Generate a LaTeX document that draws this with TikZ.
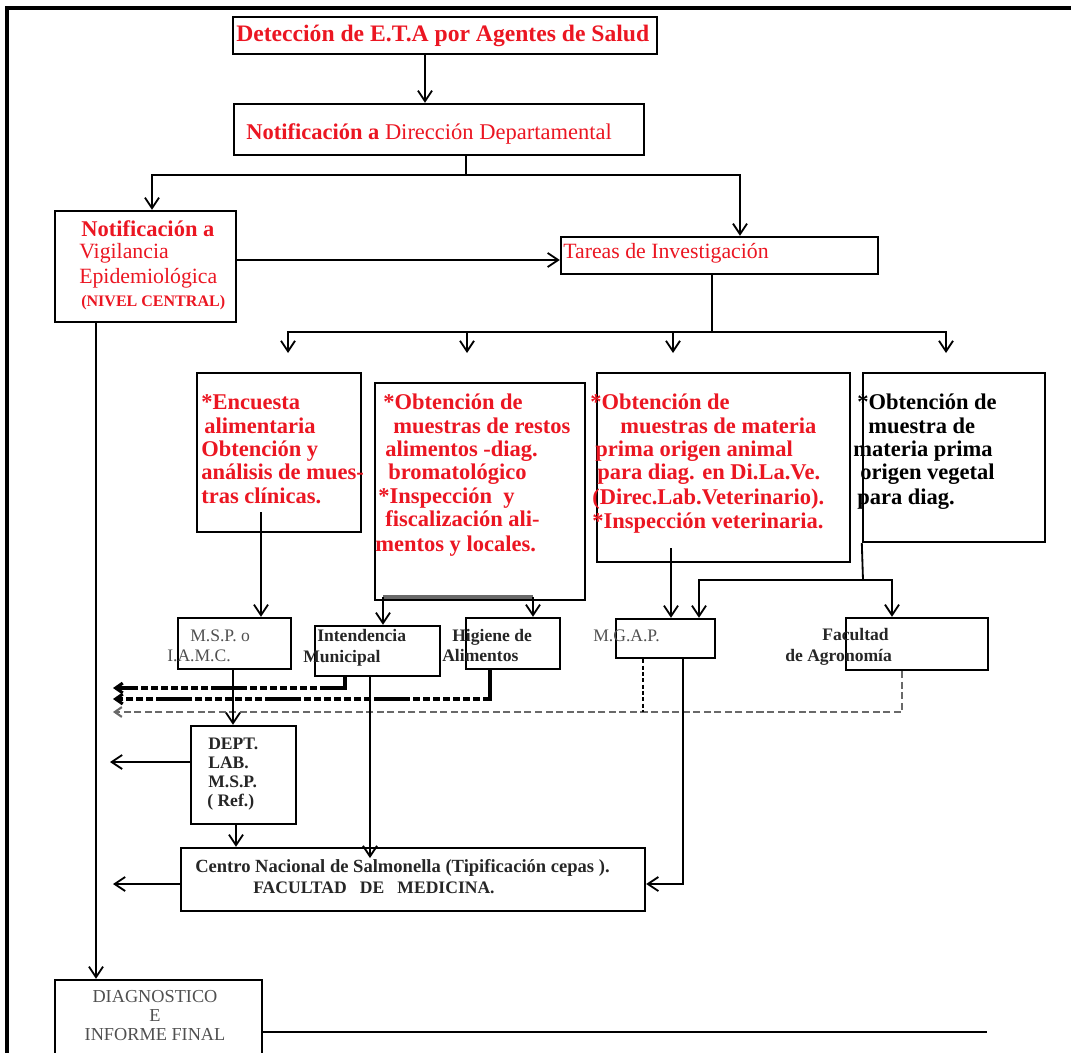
\documentclass[tikz,border=0pt]{standalone}
\usepackage{fontspec}
\setmainfont{Liberation Serif}
\usetikzlibrary{arrows.meta}

\definecolor{txtred}{RGB}{235,22,34}
\definecolor{txtgray}{RGB}{80,80,80}
\definecolor{bargray}{RGB}{105,105,105}

% box from its corners (x1,y1) to (x2,y2), in pixel units
\newcommand\pbox[5]{\node[boxst, minimum width={(#4-#2)*0.025cm}, minimum height={(#5-#3)*0.025cm}] (#1) at ({(#2+#4)/2},{(#3+#5)/2}) {};}
% one line of text, placed by the left end of its baseline
\newcommand\putline[5]{\node[#2, anchor=base west, inner sep=0pt] (#1) at (#3,#4) {#5};}

\tikzset{
  boxst/.style={draw, rectangle, line width=1.7pt, inner sep=0pt},
  conn/.style={line width=1.3pt},
  arr/.style={conn, -{Straight Barb[length=7.5pt,width=10pt]}},
  sarr/.style={-{Straight Barb[length=5pt,width=7pt]}},
  redb/.style={text=txtred, font=\fontsize{16pt}{16.7pt}\selectfont\bfseries},
  redr/.style={text=txtred, font=\fontsize{15.5pt}{16.7pt}\selectfont},
  blkb/.style={text=black, font=\fontsize{16pt}{16.7pt}\selectfont\bfseries},
  smb/.style={text=black!85, font=\fontsize{12.5pt}{14pt}\selectfont\bfseries},
  smg/.style={text=txtgray, font=\fontsize{12.5pt}{14pt}\selectfont},
  thickdash/.style={line width=2.2pt, dash pattern=on 25.6pt off 2.1pt on 5pt off 2.1pt on 5pt off 2.1pt on 5pt off 2.1pt on 5pt off 2.1pt on 5pt off 2.1pt on 5pt off 2.1pt on 5pt off 2.1pt},
  thindash/.style={line width=1.5pt, bargray, dash pattern=on 5pt off 2.5pt},
  vdash/.style={line width=1.5pt, dash pattern=on 3pt off 1.5pt}
}

\begin{document}
\begin{tikzpicture}[x=0.025cm, y=-0.025cm]
\useasboundingbox (0,0) rectangle (1071,1052);
\clip (0,0) rectangle (1071,1052);

% page frame (left and top rules)
\draw[line width=2.2pt] (7,1060) -- (7,8) -- (1080,8);

% ---------- boxes ----------
\pbox{det}{233}{17}{657}{54}
\pbox{ndir}{234}{104}{644}{155}
\pbox{vig}{55}{211}{236}{322}
\pbox{tar}{561}{237}{878}{274}
\pbox{ba}{197}{373}{361}{532}
\pbox{bb}{375}{383}{585}{600}
\pbox{bc}{597}{373}{850}{562}
\pbox{bd}{863}{373}{1045}{542}
\pbox{msp}{178}{618}{291}{669}
\pbox{intd}{315}{626}{440}{676}
\pbox{hig}{466}{618}{560}{669}
\pbox{mgap}{616}{619}{715}{658}
\pbox{fac}{846}{618}{988}{670}
\pbox{dept}{191}{726}{296}{824}
\pbox{centro}{181}{848}{645}{911}
\pbox{diag}{55}{980}{262}{1064}

% ---------- texts ----------
\putline{det-t}{redb}{236}{42}{\fontsize{16.8pt}{17pt}\selectfont Detección de E.T.A por Agentes de Salud}
\putline{ndir-t}{redr}{246}{139}{\fontsize{16pt}{17pt}\selectfont\textbf{Notificación a} Dirección Departamental}
\putline{tar-t}{redr}{563}{258}{Tareas de Investigación}

\putline{vig-1}{redb}{81}{236}{Notificación a}
\putline{vig-2}{redr}{79}{258}{Vigilancia}
\putline{vig-3}{redr}{79}{283}{Epidemiológica}
\putline{vig-4}{redb}{81}{306}{\fontsize{11.4pt}{13pt}\selectfont (NIVEL CENTRAL)}

\putline{ba-1}{redb}{201}{409}{*Encuesta}
\putline{ba-2}{redb}{204}{433}{alimentaria}
\putline{ba-3}{redb}{201}{456}{Obtención y}
\putline{ba-4}{redb}{201}{479}{análisis de mues-}
\putline{ba-5}{redb}{201}{503}{tras clínicas.}

\putline{bb-1}{redb}{383}{409}{*Obtención de}
\putline{bb-2}{redb}{393}{433}{muestras de restos}
\putline{bb-3}{redb}{385}{456}{alimentos -diag.}
\putline{bb-4}{redb}{388}{479}{bromatológico}
\putline{bb-5}{redb}{378}{503}{*Inspección\ \ y}
\putline{bb-6}{redb}{385}{526}{fiscalización ali-}
\putline{bb-7}{redb}{375}{551}{mentos y locales.}

\putline{bc-1}{redb}{590}{409}{*Obtención de}
\putline{bc-2}{redb}{620}{433}{muestras de materia}
\putline{bc-3}{redb}{595}{456}{prima origen animal}
\putline{bc-4}{redb}{597}{479}{para diag. en Di.La.Ve.}
\putline{bc-5}{redb}{592}{504}{(Direc.Lab.Veterinario).}
\putline{bc-6}{redb}{592}{528}{*Inspección veterinaria.}

\putline{bd-1}{blkb}{857}{409}{*Obtención de}
\putline{bd-2}{blkb}{868}{433}{muestra de}
\putline{bd-3}{blkb}{853}{456}{materia prima}
\putline{bd-4}{blkb}{860}{479}{origen vegetal}
\putline{bd-5}{blkb}{857}{504}{para diag.}

\putline{msp-1}{smg}{190}{641}{M.S.P. o}
\putline{msp-2}{smg}{167}{661}{I.A.M.C.}
\putline{intd-1}{smb}{317}{641}{Intendencia}
\putline{intd-2}{smb}{303}{662}{Municipal}
\putline{hig-1}{smb}{452}{641}{Higiene de}
\putline{hig-2}{smb}{442}{661}{Alimentos}
\putline{mgap-1}{smg}{593}{641}{M.G.A.P.}
\putline{fac-1}{smb}{822}{640}{Facultad}
\putline{fac-2}{smb}{785}{661}{de Agronomía}

\putline{dept-1}{smb}{208}{749}{DEPT.}
\putline{dept-2}{smb}{208}{768}{LAB.}
\putline{dept-3}{smb}{208}{787}{M.S.P.}
\putline{dept-4}{smb}{207}{806}{( Ref.)}

\putline{centro-1}{smb}{195}{872}{\fontsize{13.2pt}{14pt}\selectfont Centro Nacional de Salmonella (Tipificación cepas ).}
\putline{centro-2}{smb}{253}{893}{FACULTAD\ \ \ DE\ \ \ MEDICINA.}

\node[smg, anchor=base, inner sep=0pt] (diag-1) at (155,1002) {\fontsize{13pt}{14pt}\selectfont DIAGNOSTICO};
\node[smg, anchor=base, inner sep=0pt] (diag-2) at (155,1021) {\fontsize{13pt}{14pt}\selectfont E};
\node[smg, anchor=base, inner sep=0pt] (diag-3) at (155,1040) {\fontsize{13pt}{14pt}\selectfont INFORME FINAL};

% ---------- junction and free-end points ----------
\coordinate (j1) at (466,175);
\coordinate (j2) at (712,332);
\coordinate (t1) at (288,353);
\coordinate (t2) at (467,353);
\coordinate (t3) at (673,353);
\coordinate (t4) at (946,353);
\coordinate (aout) at (261,512);
\coordinate (cout) at (671,548);
\coordinate (bl) at (383,597);
\coordinate (br) at (533,597);
\coordinate (dj) at (863,580);
\coordinate (e1) at (113,688);
\coordinate (e2) at (113,699);
\coordinate (e3) at (113,712);
\coordinate (e4) at (110,762);
\coordinate (e5) at (113,884);
\coordinate (e6) at (987,1032);
\coordinate (cin) at (370,858);

% ---------- connectors ----------
\draw[arr] (det.south -| 425,0) -- (ndir.north -| 425,0);
\draw[conn] (ndir.south -| j1) -- (j1);
\draw[arr] (j1) -| (vig.north -| 152,0);
\draw[arr] (j1) -| (tar.north -| 740,0);
\draw[arr] (vig.east |- 0,260) -- (tar.west |- 0,260);

\draw[conn] (tar.south -| j2) -- (j2);
\draw[arr] (j2) -| (t1);
\draw[arr] (j2) -| (t2);
\draw[arr] (j2) -| (t3);
\draw[arr] (j2) -| (t4);

\draw[arr] (aout) -- (msp.north -| aout);
\draw[line width=3pt, bargray] (bl) -- (br);
\draw[arr] (bl) -- (intd.north -| bl);
\draw[arr] (br) -- (hig.north -| br);
\draw[arr] (cout) -- (mgap.north -| cout);
\draw[conn] (bd.south west) -- (dj);
\draw[arr] (dj) -| (mgap.north -| 699,0);
\draw[arr] (dj) -| (fac.north -| 892,0);

% dashed return lines
\draw[thickdash, sarr] (intd.south -| 345,0) |- (e1);
\draw[thickdash, sarr] (hig.south -| 490,0) |- (e2);
\draw[thindash, sarr] (fac.south -| 902,0) |- (e3);
\draw[vdash] (mgap.south -| 643,0) -- (643,712);

\draw[arr] (msp.south -| 233,0) -- (dept.north -| 233,0);
\draw[arr] (dept.west |- e4) -- (e4);
\draw[arr] (dept.south -| 236,0) -- (centro.north -| 236,0);
\draw[arr] (intd.south -| cin) -- (cin);
\draw[arr] (centro.west |- e5) -- (e5);
\draw[arr] (mgap.south -| 683,0) |- (centro.east |- e5);

\draw[arr] (vig.south -| 96,0) -- (diag.north -| 96,0);
\draw[conn] (diag.east |- e6) -- (e6);
\end{tikzpicture}
\end{document}
